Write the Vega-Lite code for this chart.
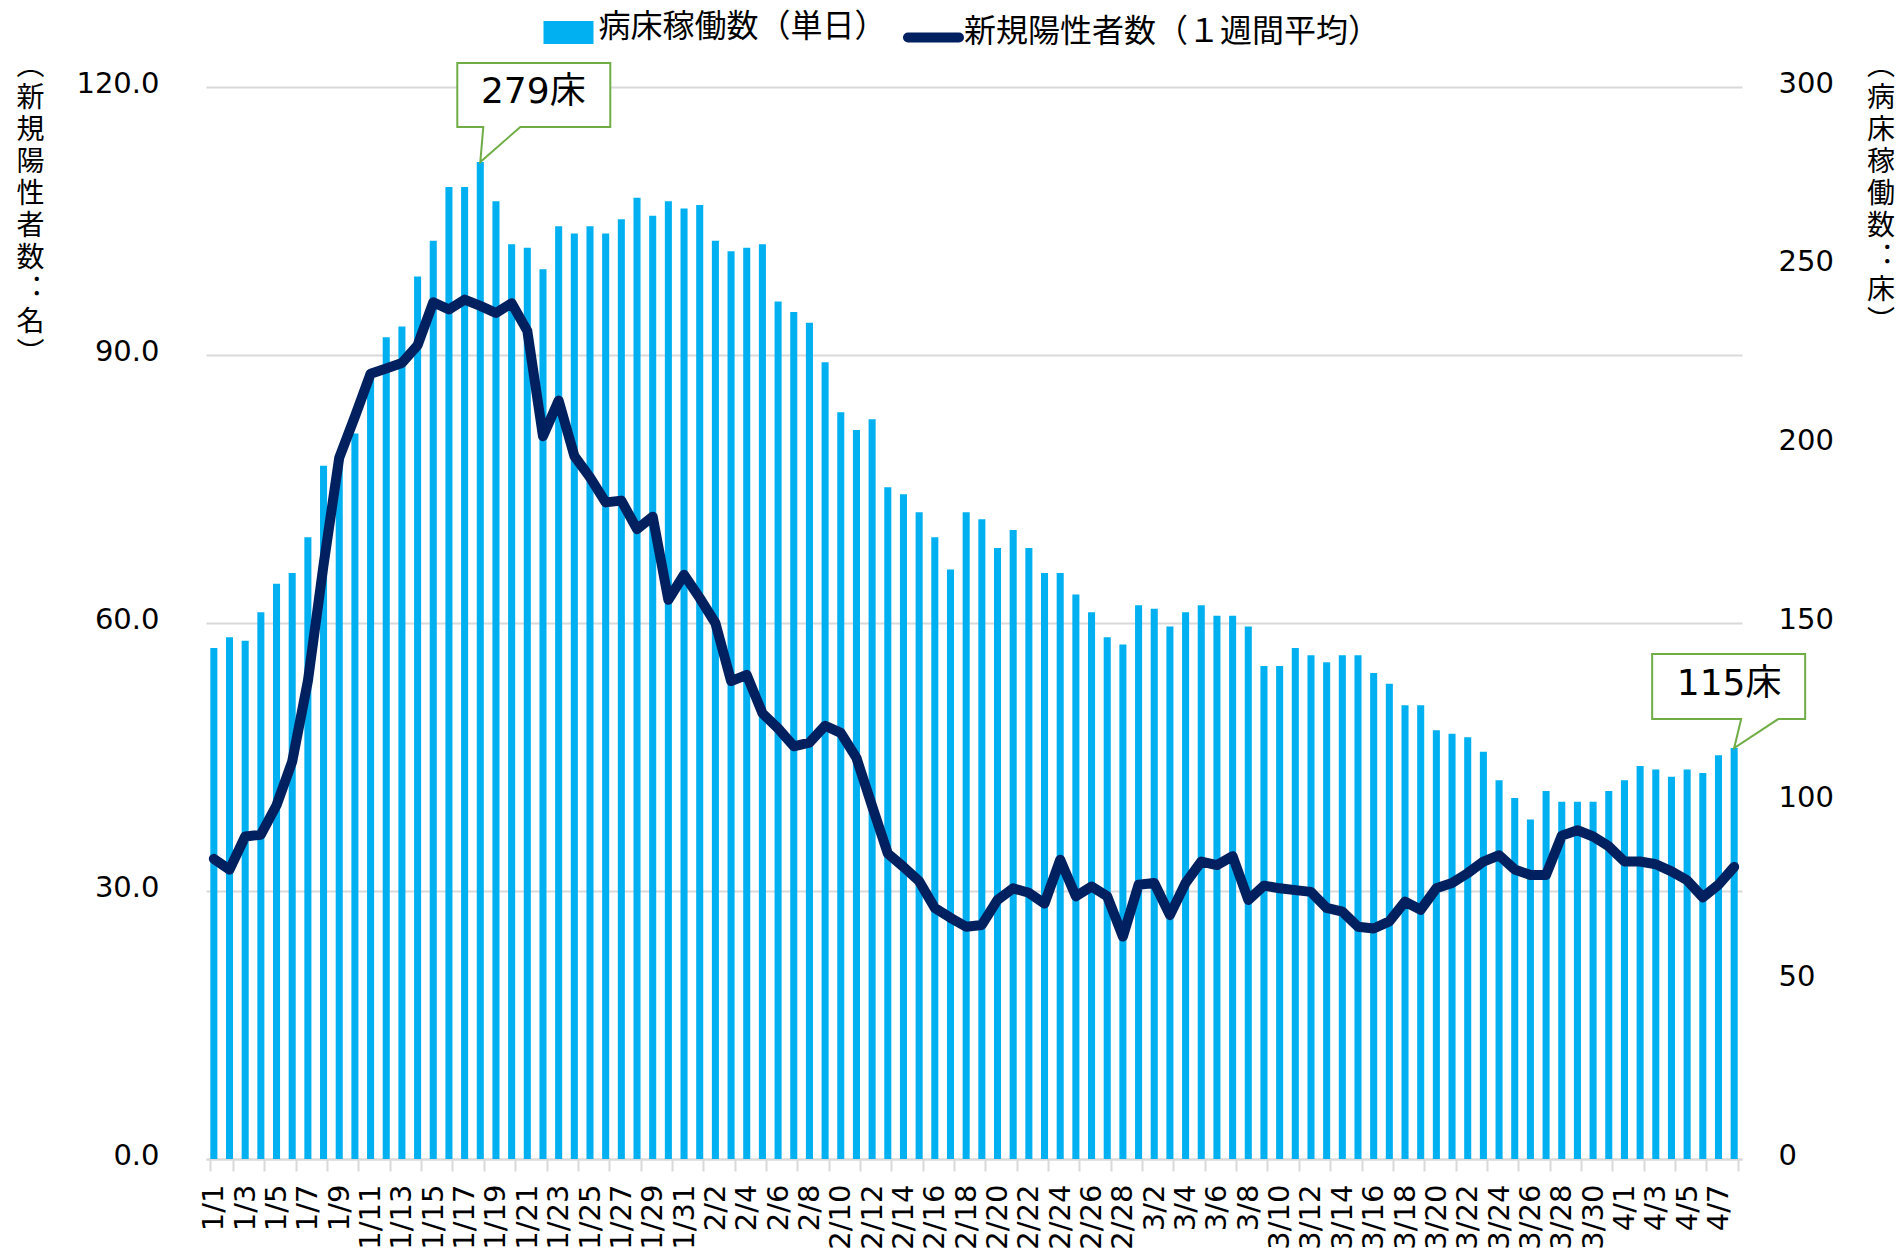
{
  "$schema": "https://vega.github.io/schema/vega-lite/v6.json",
  "width": 1536,
  "height": 1072,
  "autosize": {"type": "none"},
  "padding": {"left": 206, "top": 87, "right": 159, "bottom": 98},
  "background": "white",
  "config": {
    "view": {"stroke": null},
    "font": "DejaVu Sans",
    "axis": {"labelColor": "#000000", "titleColor": "#000000", "labelFont": "DejaVu Sans", "titleFontWeight": "normal"},
    "legend": {"labelColor": "#000000"}
  },
  "data": {"values": [
    {"d":"1/1","beds":143,"cases":33.6},{"d":"1/2","beds":146,"cases":32.4},{"d":"1/3","beds":145,"cases":36.1},{"d":"1/4","beds":153,"cases":36.3},{"d":"1/5","beds":161,"cases":39.6},{"d":"1/6","beds":164,"cases":44.5},{"d":"1/7","beds":174,"cases":53.5},{"d":"1/8","beds":194,"cases":66.5},{"d":"1/9","beds":196,"cases":78.5},{"d":"1/10","beds":203,"cases":83.1},
    {"d":"1/11","beds":219,"cases":87.9},{"d":"1/12","beds":230,"cases":88.5},{"d":"1/13","beds":233,"cases":89.1},{"d":"1/14","beds":247,"cases":91.1},{"d":"1/15","beds":257,"cases":95.9},{"d":"1/16","beds":272,"cases":95.1},{"d":"1/17","beds":272,"cases":96.2},{"d":"1/18","beds":279,"cases":95.5,"note":"279床"},{"d":"1/19","beds":268,"cases":94.7},{"d":"1/20","beds":256,"cases":95.8},
    {"d":"1/21","beds":255,"cases":92.7},{"d":"1/22","beds":249,"cases":80.9},{"d":"1/23","beds":261,"cases":84.9},{"d":"1/24","beds":259,"cases":78.7},{"d":"1/25","beds":261,"cases":76.3},{"d":"1/26","beds":259,"cases":73.5},{"d":"1/27","beds":263,"cases":73.7},{"d":"1/28","beds":269,"cases":70.5},{"d":"1/29","beds":264,"cases":71.9},{"d":"1/30","beds":268,"cases":62.6},{"d":"1/31","beds":266,"cases":65.4},
    {"d":"2/1","beds":267,"cases":62.8},{"d":"2/2","beds":257,"cases":60.0},{"d":"2/3","beds":254,"cases":53.5},{"d":"2/4","beds":255,"cases":54.2},{"d":"2/5","beds":256,"cases":49.9},{"d":"2/6","beds":240,"cases":48.2},{"d":"2/7","beds":237,"cases":46.2},{"d":"2/8","beds":234,"cases":46.6},{"d":"2/9","beds":223,"cases":48.5},{"d":"2/10","beds":209,"cases":47.7},
    {"d":"2/11","beds":204,"cases":44.9},{"d":"2/12","beds":207,"cases":39.5},{"d":"2/13","beds":188,"cases":34.2},{"d":"2/14","beds":186,"cases":32.7},{"d":"2/15","beds":181,"cases":31.1},{"d":"2/16","beds":174,"cases":28.1},{"d":"2/17","beds":165,"cases":27.0},{"d":"2/18","beds":181,"cases":26.0},{"d":"2/19","beds":179,"cases":26.2},{"d":"2/20","beds":171,"cases":29.0},
    {"d":"2/21","beds":176,"cases":30.3},{"d":"2/22","beds":171,"cases":29.8},{"d":"2/23","beds":164,"cases":28.6},{"d":"2/24","beds":164,"cases":33.5},{"d":"2/25","beds":158,"cases":29.4},{"d":"2/26","beds":153,"cases":30.5},{"d":"2/27","beds":146,"cases":29.4},{"d":"2/28","beds":144,"cases":24.9},
    {"d":"3/1","beds":155,"cases":30.7},{"d":"3/2","beds":154,"cases":30.9},{"d":"3/3","beds":149,"cases":27.3},{"d":"3/4","beds":153,"cases":30.9},{"d":"3/5","beds":155,"cases":33.3},{"d":"3/6","beds":152,"cases":32.9},{"d":"3/7","beds":152,"cases":33.9},{"d":"3/8","beds":149,"cases":29.0},{"d":"3/9","beds":138,"cases":30.6},{"d":"3/10","beds":138,"cases":30.3},
    {"d":"3/11","beds":143,"cases":30.1},{"d":"3/12","beds":141,"cases":29.9},{"d":"3/13","beds":139,"cases":28.1},{"d":"3/14","beds":141,"cases":27.7},{"d":"3/15","beds":141,"cases":26.0},{"d":"3/16","beds":136,"cases":25.8},{"d":"3/17","beds":133,"cases":26.6},{"d":"3/18","beds":127,"cases":28.8},{"d":"3/19","beds":127,"cases":27.9},{"d":"3/20","beds":120,"cases":30.3},
    {"d":"3/21","beds":119,"cases":30.9},{"d":"3/22","beds":118,"cases":32.0},{"d":"3/23","beds":114,"cases":33.3},{"d":"3/24","beds":106,"cases":34.0},{"d":"3/25","beds":101,"cases":32.4},{"d":"3/26","beds":95,"cases":31.8},{"d":"3/27","beds":103,"cases":31.8},{"d":"3/28","beds":100,"cases":36.2},{"d":"3/29","beds":100,"cases":36.8},{"d":"3/30","beds":100,"cases":36.1},{"d":"3/31","beds":103,"cases":35.0},
    {"d":"4/1","beds":106,"cases":33.3},{"d":"4/2","beds":110,"cases":33.3},{"d":"4/3","beds":109,"cases":33.0},{"d":"4/4","beds":107,"cases":32.2},{"d":"4/5","beds":109,"cases":31.2},{"d":"4/6","beds":108,"cases":29.3},{"d":"4/7","beds":113,"cases":30.7},{"d":"4/8","beds":115,"cases":32.7,"note":"115床"}
  ]},
  "encoding": {
    "x": {
      "field": "d", "type": "ordinal", "sort": null,
      "scale": {"paddingInner": 0.55, "paddingOuter": 0.275},
      "axis": {
        "title": null,
        "labelAngle": -90,
        "labelFontSize": 29,
        "labelPadding": 13,
        "labelOverlap": false,
        "labelBound": false,
        "labelExpr": "(toNumber(split(datum.value,'/')[1]) + ((split(datum.value,'/')[0] == '1' || split(datum.value,'/')[0] == '4') ? 1 : 0)) % 2 == 0 ? datum.value : ''",
        "tickBand": "extent",
        "tickColor": "#D9D9D9",
        "tickWidth": 2,
        "tickSize": 12,
        "tickOpacity": {"condition": {"test": "datum.extra || (isString(datum.value) && (toNumber(split(datum.value,'/')[1]) + ((split(datum.value,'/')[0] == '1' || split(datum.value,'/')[0] == '4') ? 1 : 0)) % 2 == 1)", "value": 1}, "value": 0},
        "domainColor": "#D9D9D9",
        "domainWidth": 2,
        "grid": false
      }
    }
  },
  "layer": [
    {
      "mark": {"type": "bar", "color": "#00B0F0"},
      "encoding": {
        "y": {
          "field": "beds", "type": "quantitative",
          "scale": {"domain": [0, 300], "nice": false, "zero": true},
          "axis": {
            "orient": "right",
            "values": [0, 50, 100, 150, 200, 250, 300],
            "grid": false, "ticks": false, "tickSize": 0, "domain": false,
            "labelFontSize": 29, "labelPadding": 36, "labelOffset": -4,
            "title": ["︵", "病", "床", "稼", "働", "数", "︓", "床", "︶"],
            "titleFont": "Noto Sans CJK JP", "titleFontSize": 28, "titleLineHeight": 32,
            "titleAngle": 0, "titleAlign": "center", "titleBaseline": "top",
            "titleX": 138.5, "titleY": -35
          }
        },
        "color": {
          "datum": "病床稼働数（単日）",
          "scale": {"range": ["#00B0F0"]},
          "legend": {
            "title": null, "orient": "none", "legendX": 337.5, "legendY": -79.5,
            "symbolType": "M-1,-0.46H1V0.46H-1Z", "symbolSize": 2500, "symbolStrokeWidth": 0,
            "labelFont": "Noto Sans CJK JP", "labelFontSize": 32, "labelOffset": 5,
            "labelLimit": 1000, "padding": 0,
            "encode": {"labels": {"update": {"dy": {"value": -6}}}}
          }
        }
      }
    },
    {
      "mark": {"type": "line", "strokeWidth": 10, "strokeJoin": "round", "strokeCap": "round"},
      "encoding": {
        "y": {
          "field": "cases", "type": "quantitative",
          "scale": {"domain": [0, 120], "nice": false, "zero": true},
          "axis": {
            "orient": "left",
            "values": [0, 30, 60, 90, 120],
            "format": ".1f",
            "grid": true, "gridColor": "#D9D9D9", "gridWidth": 2,
            "ticks": false, "tickSize": 0, "domain": false,
            "labelFontSize": 29, "labelPadding": 47, "labelOffset": -4,
            "title": ["︵", "新", "規", "陽", "性", "者", "数", "︓", "名", "︶"],
            "titleFont": "Noto Sans CJK JP", "titleFontSize": 28, "titleLineHeight": 32,
            "titleAngle": 0, "titleAlign": "center", "titleBaseline": "top",
            "titleX": -176, "titleY": -35
          }
        },
        "color": {
          "datum": "新規陽性者数（１週間平均）",
          "scale": {"range": ["#002060"]},
          "legend": {
            "title": null, "orient": "none", "legendX": 697, "legendY": -80,
            "symbolType": "stroke", "symbolSize": 2601, "symbolStrokeWidth": 10,
            "labelFont": "Noto Sans CJK JP", "labelFontSize": 32, "labelOffset": 0,
            "labelLimit": 1000, "padding": 0,
            "encode": {"symbols": {"update": {"strokeCap": {"value": "round"}}}, "labels": {"update": {"dy": {"value": -6}}}}
          }
        }
      }
    },
    {
      "transform": [{"filter": "datum.d == '1/18'"}],
      "mark": {"type": "point", "shape": "M0,0L3,-35L-23,-35L-23,-99L130,-99L130,-35L40,-35Z", "size": 4, "filled": true, "fill": "#FFFFFF", "stroke": "#70AD47", "strokeWidth": 2, "opacity": 1},
      "encoding": {"y": {"field": "beds", "type": "quantitative", "scale": {"domain": [0, 300], "nice": false}, "axis": null}}
    },
    {
      "transform": [{"filter": "datum.d == '1/18'"}],
      "mark": {"type": "text", "font": "DejaVu Sans, Noto Sans CJK JP", "fontSize": 36, "color": "#000000", "align": "center", "baseline": "middle", "dx": 53, "dy": -70},
      "encoding": {"y": {"field": "beds", "type": "quantitative", "scale": {"domain": [0, 300], "nice": false}, "axis": null}, "text": {"field": "note"}}
    },
    {
      "transform": [{"filter": "datum.d == '4/8'"}],
      "mark": {"type": "point", "shape": "M0,0L7,-29L-82,-29L-82,-94L71,-94L71,-29L44,-29Z", "size": 4, "filled": true, "fill": "#FFFFFF", "stroke": "#70AD47", "strokeWidth": 2, "opacity": 1},
      "encoding": {"y": {"field": "beds", "type": "quantitative", "scale": {"domain": [0, 300], "nice": false}, "axis": null}}
    },
    {
      "transform": [{"filter": "datum.d == '4/8'"}],
      "mark": {"type": "text", "font": "DejaVu Sans, Noto Sans CJK JP", "fontSize": 36, "color": "#000000", "align": "center", "baseline": "middle", "dx": -5, "dy": -64},
      "encoding": {"y": {"field": "beds", "type": "quantitative", "scale": {"domain": [0, 300], "nice": false}, "axis": null}, "text": {"field": "note"}}
    }
  ],
  "resolve": {"scale": {"y": "independent", "color": "independent"}}
}
